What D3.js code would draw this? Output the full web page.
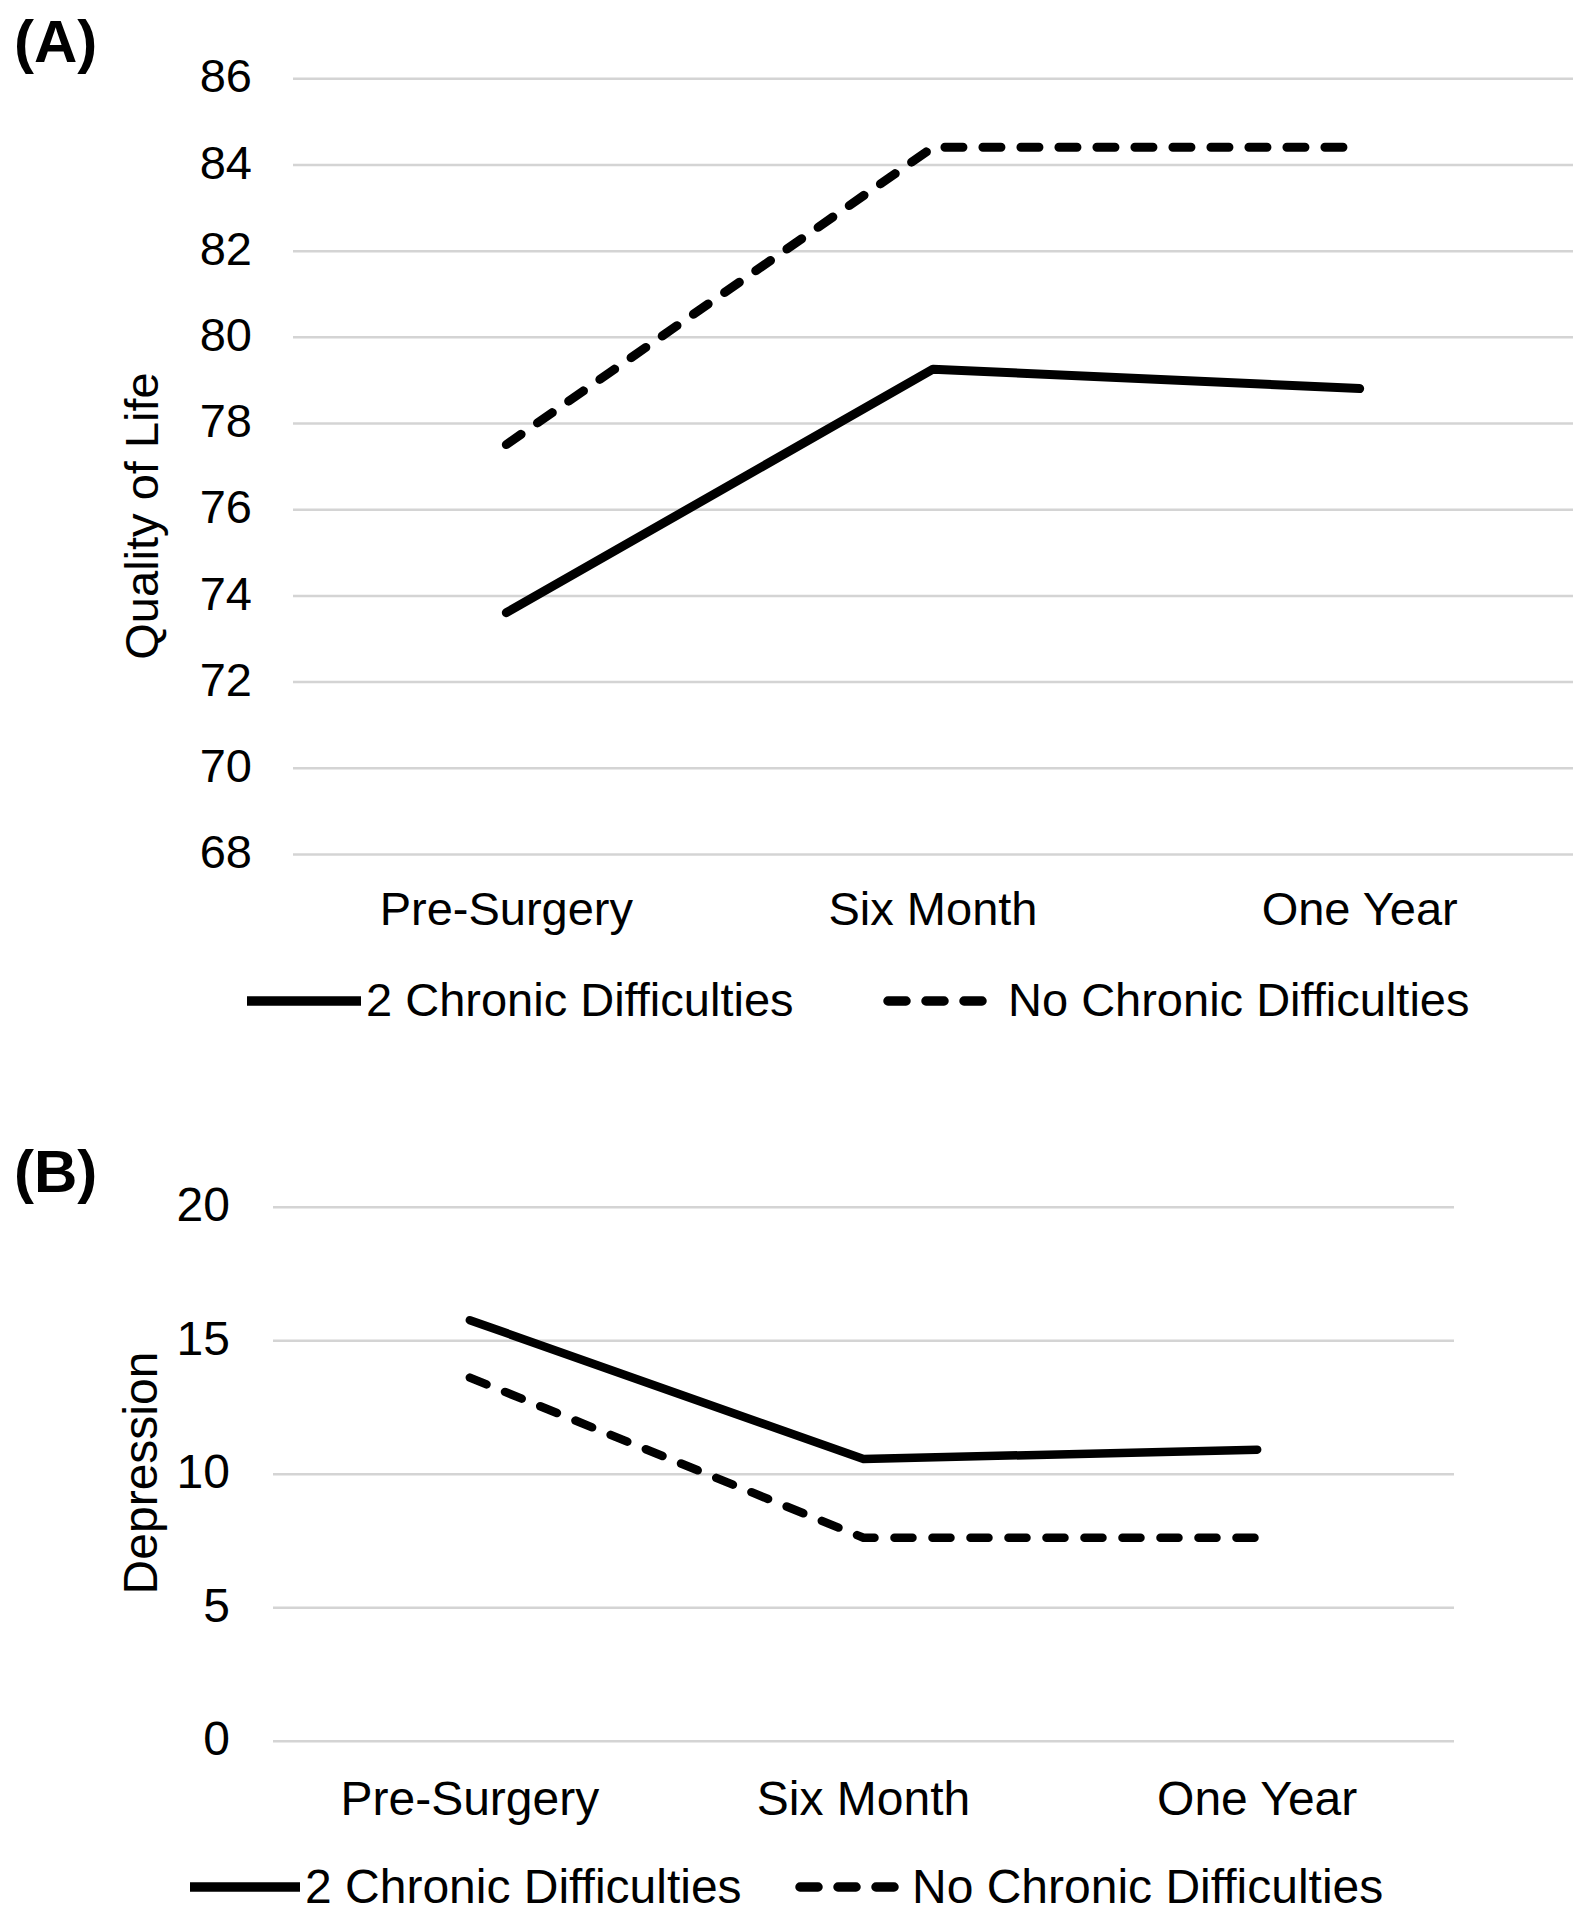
<!DOCTYPE html>
<html>
<head>
<meta charset="utf-8">
<script src="https://cdn.jsdelivr.net/npm/d3@7"></script>
<style>
  html, body { margin: 0; padding: 0; background: #ffffff; }
  svg { display: block; }
  text { font-family: "Liberation Sans", Arial, Helvetica, sans-serif; fill: #000; }
</style>
</head>
<body>
<svg id="chart" width="1592" height="1920"></svg>
<script>
// ---------------- data ----------------
const categories = ["Pre-Surgery", "Six Month", "One Year"];
const seriesNames = ["2 Chronic Difficulties", "No Chronic Difficulties"];

const qolTwoChronic = [73.6, 79.25, 78.8];
const qolNoChronic  = [77.5, 84.4, 84.4];
const qolTicks = [68, 70, 72, 74, 76, 78, 80, 82, 84, 86];

const depTwoChronic = [15.75, 10.55, 10.9];
const depNoChronic  = [13.6, 7.6, 7.6];
const depTicks = [0, 5, 10, 15, 20];

// ---------------- layout ----------------
const svg = d3.select("#chart");
const DASH = "18,20";

const panels = [
  {
    label: "(A)", labelX: 14, labelY: 62, font: 47, lw: 9,
    yTitle: "Quality of Life", yTitleX: 158, yTitleY: 516,
    left: 293, right: 1573, top: 78.3, bottom: 854,
    domain: [68, 86], ticks: qolTicks, tickPad: 41, xPad: 38,
    series: [qolTwoChronic, qolNoChronic],
    legendY: 1001, legendTextY: 1016,
    legend: [ {x1: 247, x2: 361, tx: 366}, {x1: 888, x2: 983, tx: 1008} ]
  },
  {
    label: "(B)", labelX: 14, labelY: 1192, font: 48, lw: 8.5,
    yTitle: "Depression", yTitleX: 157, yTitleY: 1473,
    left: 273, right: 1454, top: 1206.7, bottom: 1740.7,
    domain: [0, 20], ticks: depTicks, tickPad: 43, xPad: 40,
    series: [depTwoChronic, depNoChronic],
    legendY: 1887, legendTextY: 1903,
    legend: [ {x1: 190, x2: 300, tx: 305}, {x1: 800, x2: 895, tx: 912} ]
  }
];

const styles = [
  { dash: null },
  { dash: DASH }
];

panels.forEach(p => {
  const x = d3.scaleBand().domain(categories).range([p.left, p.right]).padding(0);
  const y = d3.scaleLinear().domain(p.domain).range([p.bottom, p.top]);
  const w = p.right - p.left;

  // panel label
  svg.append("text")
    .attr("x", p.labelX).attr("y", p.labelY)
    .attr("font-size", 60).attr("font-weight", "bold")
    .text(p.label);

  // y axis with gridlines
  const gy = svg.append("g")
    .attr("transform", `translate(${p.left},0)`)
    .call(d3.axisLeft(y).tickValues(p.ticks).tickSize(-w).tickPadding(p.tickPad).tickFormat(d3.format("d")));
  gy.select(".domain").remove();
  gy.selectAll(".tick line").attr("stroke", "#d4d4d4").attr("stroke-width", 2.5);
  gy.selectAll(".tick text").attr("font-size", p.font).attr("fill", "#000").attr("dy", "0.29em")
    .style("font-family", '"Liberation Sans", Arial, sans-serif');

  // x axis labels
  const gx = svg.append("g")
    .attr("transform", `translate(0,${p.bottom})`)
    .call(d3.axisBottom(x).tickSize(0).tickPadding(p.xPad));
  gx.select(".domain").remove();
  gx.selectAll(".tick text").attr("font-size", p.font).attr("fill", "#000")
    .style("font-family", '"Liberation Sans", Arial, sans-serif');

  // y title
  svg.append("text")
    .attr("transform", `translate(${p.yTitleX},${p.yTitleY}) rotate(-90)`)
    .attr("text-anchor", "middle")
    .attr("font-size", p.font)
    .text(p.yTitle);

  // lines
  const line = d3.line()
    .x((d, i) => x(categories[i]) + x.bandwidth() / 2)
    .y(d => y(d));

  p.series.forEach((s, i) => {
    const path = svg.append("path")
      .datum(s)
      .attr("d", line)
      .attr("fill", "none")
      .attr("stroke", "#000")
      .attr("stroke-width", p.lw)
      .attr("stroke-linejoin", "round")
      .attr("stroke-linecap", "round");
    if (styles[i].dash) path.attr("stroke-dasharray", styles[i].dash);
  });

  // legend
  p.legend.forEach((L, i) => {
    const ln = svg.append("line")
      .attr("x1", L.x1).attr("x2", L.x2)
      .attr("y1", p.legendY).attr("y2", p.legendY)
      .attr("stroke", "#000").attr("stroke-width", 9.5);
    if (styles[i].dash) ln.attr("stroke-dasharray", DASH).attr("stroke-linecap", "round");
    svg.append("text")
      .attr("x", L.tx).attr("y", p.legendTextY)
      .attr("font-size", p.font)
      .text(seriesNames[i]);
  });
});
</script>
</body>
</html>
